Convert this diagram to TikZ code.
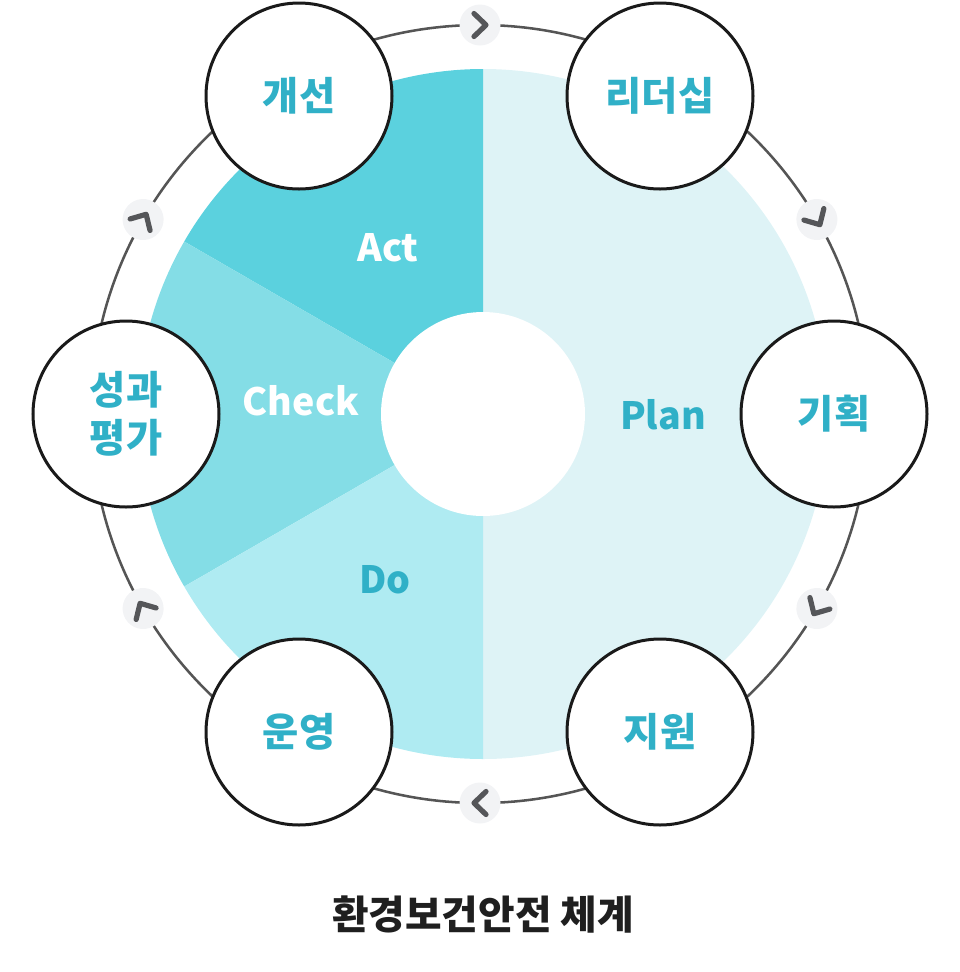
\documentclass[tikz,border=0pt]{standalone}
\usepackage{fontspec}
\newfontfamily\kr{Noto Sans CJK KR}
\definecolor{actc}{HTML}{5BD1DE}
\definecolor{checkc}{HTML}{84DDE6}
\definecolor{doc}{HTML}{AFEBF2}
\definecolor{planc}{HTML}{DEF3F6}
\definecolor{labc}{HTML}{30B0C7}
\definecolor{ringc}{HTML}{555555}
\definecolor{circc}{HTML}{1A1A1A}
\definecolor{mkfill}{HTML}{F2F3F5}
\definecolor{chevc}{HTML}{555659}
\definecolor{titc}{HTML}{1F1F1F}
\begin{document}
\begin{tikzpicture}[x=0.75pt,y=0.75pt,
  bubble/.style={circle, draw=circc, line width=2.25pt, fill=white, minimum size=139.5pt, inner sep=0pt,
    font=\kr\bfseries\fontsize{29.5}{36}\selectfont, text=labc, align=center},
  seglbl/.style={font=\kr\bfseries\fontsize{28.2}{34}\selectfont, inner sep=0pt},
  titlbl/.style={font=\kr\bfseries\fontsize{29.8}{34}\selectfont, text=titc, inner sep=0pt},
  chev/.pic={
    \fill[mkfill] (0,0) circle[radius=20.5];
    \draw[chevc, line width=3.9pt, line cap=round, line join=round] (-6,11.5) -- (6,0) -- (-6,-11.5);
  }]
\useasboundingbox (0,0) rectangle (960,-972);
\coordinate (c) at (483,-414);
\coordinate (rc) at (480,-414);
% outer ring
\draw[ringc, line width=1.9pt] (rc) circle[radius=389];
\foreach \a in {90,30,-30,-90,-150,150}{
  \pic[rotate=\a-90] at ([shift={(\a:389)}]rc) {chev};
}
% pie
\fill[planc] (c) -- ++(-90:345) arc[start angle=-90,end angle=90,radius=345] -- cycle;
\fill[actc] (c) -- ++(90:345) arc[start angle=90,end angle=150,radius=345] -- cycle;
\fill[checkc] (c) -- ++(150:345) arc[start angle=150,end angle=210,radius=345] -- cycle;
\fill[doc] (c) -- ++(210:345) arc[start angle=210,end angle=270,radius=345] -- cycle;
\fill[white] (c) circle[radius=102];
% segment labels
\node[seglbl, text=white] (act) at (388,-248) {Act};
\node[seglbl, text=white] (check) at (301,-401) {Check};
\node[seglbl, text=labc] (plan) at (663,-415) {Plan};
\node[seglbl, text=labc] (do) at (385,-580) {Do};
% bubbles
\node[bubble] (gaeseon) at (299,-96) {개선};
\node[bubble] (leader) at (660,-96) {리더십};
\node[bubble] (plan2) at (834,-414) {기획};
\node[bubble] (support) at (660,-732) {지원};
\node[bubble] (oper) at (299,-732) {운영};
\node[bubble] (eval) at (126,-414) {성과\\평가};
% title
\node[titlbl] (title) at (483,-915) {환경보건안전 체계};
\end{tikzpicture}
\end{document}
